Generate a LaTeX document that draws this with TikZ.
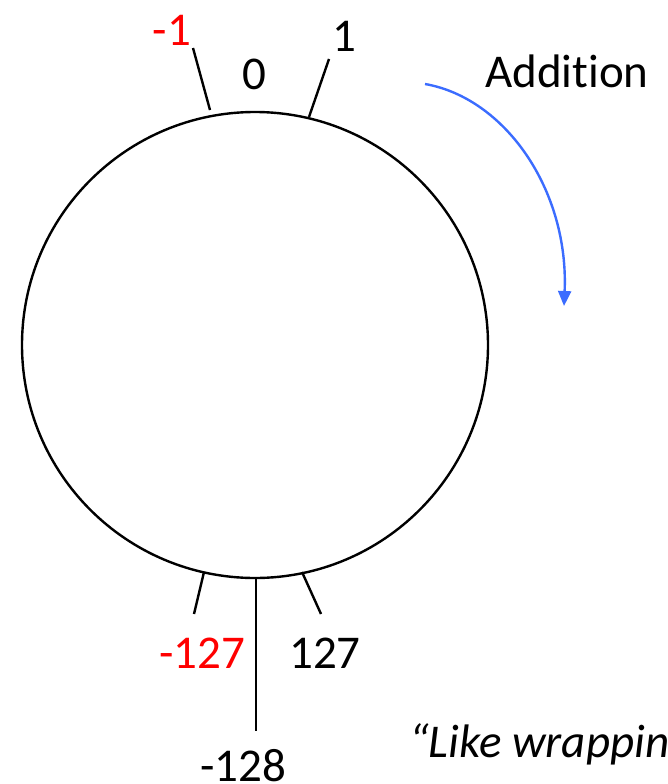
\documentclass[tikz,border=0pt]{standalone}
\usepackage{fontspec}
\setmainfont{Carlito}[Ligatures={NoCommon,TeX}]
\usetikzlibrary{arrows.meta}
\definecolor{addblue}{RGB}{59,108,255}
\begin{document}
\begin{tikzpicture}[x=1pt,y=-1pt,
  lbl/.style={inner sep=0pt,font=\fontsize{47}{56}\selectfont},
  redlbl/.style={lbl,text=red},
  tick/.style={line width=2.4pt,black}]
\useasboundingbox (0,0) rectangle (667,784);
\clip (0,0) rectangle (667,784);
% wheel
\node[circle,draw,line width=2.4pt,minimum size=466pt,inner sep=0pt] (wheel) at (255,345) {};
% tick end points
\coordinate (m1a) at (193,48);  \coordinate (m1b) at (210,110);
\coordinate (p1a) at (329,59);  \coordinate (p1b) at (309,117);
\coordinate (m127a) at (204,572); \coordinate (m127b) at (194,614);
\coordinate (p127a) at (302,572); \coordinate (p127b) at (321,614);
\coordinate (m128a) at (256,579); \coordinate (m128b) at (256,731);
\draw[tick] (m1a) -- (m1b);
\draw[tick] (p1a) -- (p1b);
\draw[tick] (m127a) -- (m127b);
\draw[tick] (p127a) -- (p127b);
\draw[tick] (m128a) -- (m128b);
% labels
\node[redlbl] (lm1) at (172,30) {-1};
\node[lbl] (l0) at (254,74) {0};
\node[lbl] (l1) at (344,36) {1};
\node[redlbl] (lm127) at (202,653) {-127};
\node[lbl] (l127) at (325,653) {127};
\node[lbl] (lm128) at (243,766) {-128};
\node[lbl] (add) at (567,71) {Addition};
\node[lbl,anchor=west] (quote) at (409,745) {\itshape “Like wrapping};
% addition arrow
\coordinate (arrS) at (425,84);
\coordinate (arrE) at (564,306);
\draw[addblue,line width=2.4pt,-{Triangle[length=15pt,width=13pt]}]
  (arrS) .. controls (505,98) and (569,190) .. (arrE);
\end{tikzpicture}
\end{document}
